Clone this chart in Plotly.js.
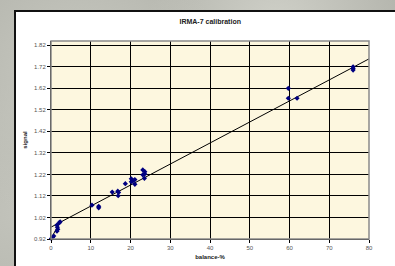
<!DOCTYPE html>
<html><head><meta charset="utf-8">
<script src="https://cdn.plot.ly/plotly-3.0.1.min.js"></script>
<style>
html,body{margin:0;padding:0;width:395px;height:266px;overflow:hidden;}
body{background:#b4b5ad;background-image:radial-gradient(circle at 20% 30%,#c9cac2 0,transparent 40%),radial-gradient(circle at 70% 10%,#cfd0c8 0,transparent 35%),radial-gradient(circle at 5% 80%,#c2c3bb 0,transparent 30%);}
#wrap{position:absolute;left:14px;top:10px;width:381px;height:256px;background:#fff;border-left:2px solid #111;border-top:2px solid #111;box-sizing:border-box;}
#chart{position:absolute;left:-2px;top:-2px;width:381px;height:256px;}
</style></head>
<body>
<div id="wrap"><div id="chart"></div></div>
<script>
var balance = [0.1,0.4,0.7,1.5,1.7,1.6,1.5,2.1,2.3,10.3,12.0,12.0,15.4,16.8,17.0,16.9,18.7,20.2,20.2,21.1,21.1,20.6,23.1,23.1,23.6,23.6,23.5,59.7,59.7,61.9,76.0,76.0,76.0];
var signal  = [0.922,0.928,0.934,0.956,0.965,0.975,0.985,0.996,1.0,1.077,1.072,1.065,1.138,1.142,1.136,1.121,1.177,1.2,1.186,1.196,1.174,1.19,1.241,1.218,1.233,1.222,1.202,1.62,1.574,1.574,1.72,1.712,1.705];
var fitX = [0, 80];
var fitY = [0.975, 1.757];
var lowX = [0, 2.2];
var lowY = [0.922, 0.996];
var xTicks = [0,10,20,30,40,50,60,70,80];
var yTicks = [0.92,1.02,1.12,1.22,1.32,1.42,1.52,1.62,1.72,1.82];

var traces = [
  {x: fitX, y: fitY, mode:'lines', line:{color:'#000', width:1}, hoverinfo:'skip'},
  {x: lowX, y: lowY, mode:'lines', line:{color:'#000', width:1}, hoverinfo:'skip'},
  {x: balance, y: signal, mode:'markers', marker:{symbol:'diamond', size:4, color:'#000080'}, cliponaxis:false}
];
var axFont = {family:'Liberation Sans, Arial, sans-serif', size:6, color:'#555'};
var layout = {
  width:381, height:256,
  margin:{l:37, r:26, t:31, b:27},
  paper_bgcolor:'rgba(0,0,0,0)',
  plot_bgcolor:'#fdf7df',
  showlegend:false,
  title:{text:'<b>IRMA-7 calibration</b>', font:{family:'Liberation Sans, Arial, sans-serif', size:7, color:'#222'}, x:0.515, xanchor:'center', y:0.955, yanchor:'middle'},
  xaxis:{range:[0,80], tickvals:xTicks, ticktext:xTicks.map(String), tickfont:axFont, ticks:'outside', ticklen:3, tickcolor:'#000',
    showgrid:true, gridcolor:'#000', gridwidth:1, zeroline:false, showline:true, linecolor:'#000', linewidth:1,
    title:{text:'<b>balance-%</b>', font:{family:'Liberation Sans, Arial, sans-serif', size:6, color:'#222'}, standoff:4}},
  yaxis:{range:[0.92,1.84], tickvals:yTicks, ticktext:yTicks.map(function(v){return v.toFixed(2);}), tickfont:axFont, ticks:'outside', ticklen:3, tickcolor:'#000',
    showgrid:true, gridcolor:'#000', gridwidth:1, zeroline:false, showline:true, linecolor:'#000', linewidth:1,
    title:{text:'<b>signal</b>', font:{family:'Liberation Sans, Arial, sans-serif', size:6, color:'#222'}, standoff:6}},
  shapes:[{type:'rect', xref:'paper', yref:'paper', x0:0, x1:1, y0:0, y1:1, line:{color:'#8a8a8a', width:1.5}, layer:'above'}]
};
Plotly.newPlot('chart', traces, layout, {displayModeBar:false, staticPlot:true});
</script>
</body></html>
